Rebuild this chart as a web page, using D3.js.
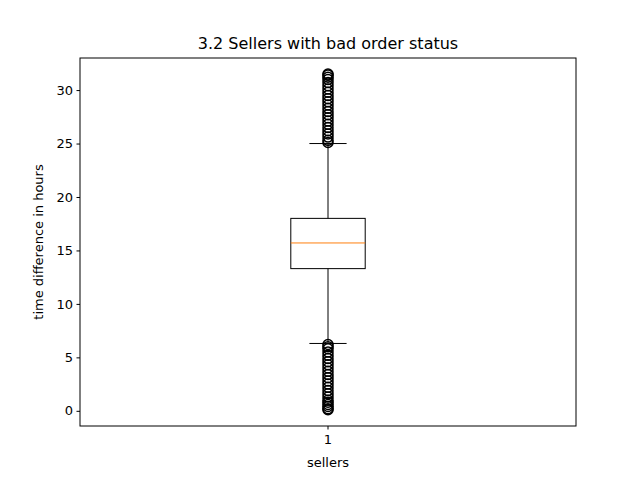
<!DOCTYPE html>
<html><head><meta charset="utf-8">
<script src="https://cdn.jsdelivr.net/npm/d3@7"></script>
<style>body{margin:0;background:#fff}text{font-family:"DejaVu Sans",sans-serif}</style>
</head><body><svg id="c" width="640" height="480"></svg>
<script>
const categories=["1"];
const stats={q1:13.3,median:15.7,q3:18.0,whiskerLow:6.3,whiskerHigh:25.0};
const lowOutliers=[0.1,0.2,0.4,0.6,0.8,1.0,1.3,1.6,1.9,2.2,2.5,2.8,3.1,3.4,3.7,4.0,4.3,4.6,4.9,5.2,5.5,5.8,6.0,6.2];
const highOutliers=[25.1,25.3,25.6,25.9,26.2,26.5,26.8,27.1,27.4,27.7,28.0,28.3,28.6,28.9,29.2,29.5,29.8,30.1,30.4,30.7,31.0,31.2,31.4,31.5];
const yTicks=[0,5,10,15,20,25,30];
const svg=d3.select("#c");
const L=80,R=576,T=58,B=426;
const x=d3.scaleBand().domain(categories).range([L,R]);
const y=d3.scaleLinear().domain([-1.42,33.0]).range([B,T]);
const cx=x("1")+x.bandwidth()/2, bw=x.bandwidth()*0.075, cw=bw/2;
const g=svg.append("g");
g.append("g").attr("transform",`translate(0,${B})`).call(d3.axisBottom(x).tickSize(3.5).tickPadding(5)).call(a=>a.select(".domain").remove());
g.append("g").attr("transform",`translate(${L},0)`).call(d3.axisLeft(y).tickValues(yTicks).tickSize(3.5).tickPadding(3.5)).call(a=>a.select(".domain").remove());
g.selectAll(".tick text").attr("font-size",13).attr("fill","#000").style("font-family","DejaVu Sans");
g.selectAll(".tick line").attr("stroke","#000");
svg.append("rect").attr("x",L).attr("y",T).attr("width",R-L).attr("height",B-T).attr("fill","none").attr("stroke","#000");
const line=(x1,y1,x2,y2,c="#000")=>svg.append("line").attr("x1",x1).attr("y1",y1).attr("x2",x2).attr("y2",y2).attr("stroke",c).attr("stroke-width",1);
line(cx,y(stats.q3),cx,y(stats.whiskerHigh));
line(cx,y(stats.q1),cx,y(stats.whiskerLow));
line(cx-cw,y(stats.whiskerHigh),cx+cw,y(stats.whiskerHigh));
line(cx-cw,y(stats.whiskerLow),cx+cw,y(stats.whiskerLow));
svg.append("rect").attr("x",cx-bw).attr("y",y(stats.q3)).attr("width",2*bw).attr("height",y(stats.q1)-y(stats.q3)).attr("fill","none").attr("stroke","#000");
line(cx-bw,y(stats.median),cx+bw,y(stats.median),"#ff7f0e");
svg.selectAll(".o").data(lowOutliers.concat(highOutliers)).enter().append("circle").attr("cx",cx).attr("cy",d=>y(d)).attr("r",5).attr("fill","none").attr("stroke","#000").attr("stroke-width",1.5);
svg.append("text").attr("x",(L+R)/2).attr("y",49).attr("text-anchor","middle").attr("font-size",16).text("3.2 Sellers with bad order status");
svg.append("text").attr("x",(L+R)/2).attr("y",467).attr("text-anchor","middle").attr("font-size",13).text("sellers");
svg.append("text").attr("transform",`translate(43,${(T+B)/2}) rotate(-90)`).attr("text-anchor","middle").attr("font-size",13).text("time difference in hours");
</script></body></html>
